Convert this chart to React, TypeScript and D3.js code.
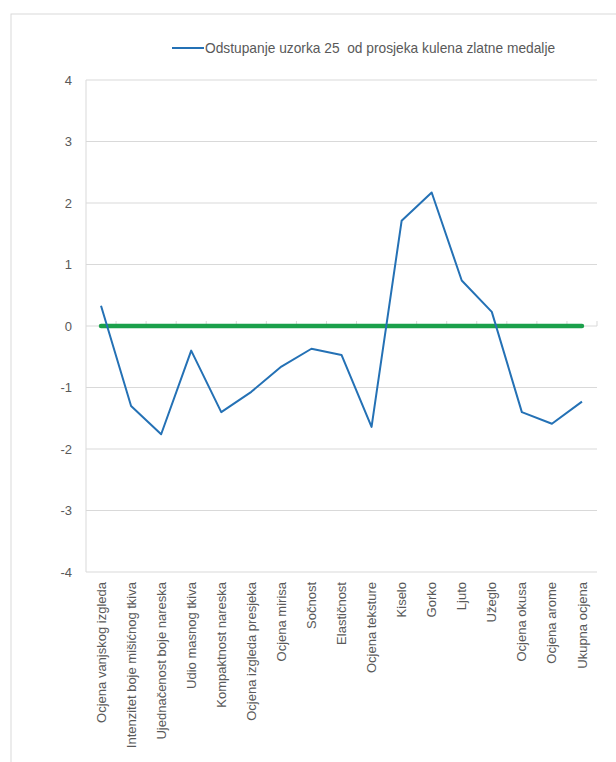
import React from "react";
import * as d3 from "d3";

const categories = [
  "Ocjena vanjskog izgleda",
  "Intenzitet boje mišićnog tkiva",
  "Ujednačenost boje nareska",
  "Udio masnog tkiva",
  "Kompaktnost nareska",
  "Ocjena izgleda presjeka",
  "Ocjena mirisa",
  "Sočnost",
  "Elastičnost",
  "Ocjena teksture",
  "Kiselo",
  "Gorko",
  "Ljuto",
  "Užeglo",
  "Ocjena okusa",
  "Ocjena arome",
  "Ukupna ocjena",
];

const deviation = [0.33, -1.3, -1.76, -0.4, -1.4, -1.07, -0.66, -0.37, -0.47, -1.64, 1.71, 2.17, 0.74, 0.23, -1.4, -1.59, -1.23];
const baseline = categories.map(() => 0);
const yTicks = [-4, -3, -2, -1, 0, 1, 2, 3, 4];
const legendLabel = "Odstupanje uzorka 25  od prosjeka kulena zlatne medalje";

const W = 616;
const H = 762;
const left = 86;
const right = 597;
const top = 80;
const bottom = 572;
const FONT = "'Liberation Sans', Arial, sans-serif";
const TEXT = "#595959";
const GRID = "#d9d9d9";

export default function App() {
  const x = d3.scaleBand<string>().domain(categories).range([left, right]).paddingInner(0).paddingOuter(0);
  const y = d3.scaleLinear().domain([-4, 4]).range([bottom, top]);
  const cx = (c: string) => (x(c) as number) + x.bandwidth() / 2;

  const line = d3
    .line<number>()
    .x((_, i) => cx(categories[i]))
    .y((d) => y(d));

  return (
    <svg width={W} height={H} style={{ position: "absolute", left: 0, top: 0, background: "#fff" }}>
      <rect x={11} y={14} width={W} height={H} fill="#fff" stroke={GRID} strokeWidth={1} />
      {/* gridlines */}
      {yTicks.map((t) => (
        <line key={"g" + t} x1={left} x2={right} y1={y(t)} y2={y(t)} stroke={GRID} strokeWidth={1} />
      ))}
      <line x1={left} x2={left} y1={top} y2={bottom} stroke={GRID} strokeWidth={1} />
      {/* category tick marks on zero axis */}
      {d3.range(1, categories.length + 1).map((i) => {
        const xx = left + i * x.bandwidth();
        return <line key={"t" + i} x1={xx} x2={xx} y1={y(0) - 5} y2={y(0)} stroke={GRID} strokeWidth={1} />;
      })}
      {/* y tick labels */}
      {yTicks.map((t) => (
        <text key={"l" + t} x={72} y={y(t)} dy="0.35em" textAnchor="end" fontFamily={FONT} fontSize={13} fill={TEXT}>
          {t}
        </text>
      ))}
      {/* category labels */}
      {categories.map((c) => (
        <text
          key={c}
          transform={`translate(${cx(c)},582) rotate(-90)`}
          dy="0.35em"
          textAnchor="end"
          fontFamily={FONT}
          fontSize={13}
          fill={TEXT}
        >
          {c}
        </text>
      ))}
      {/* baseline (green) */}
      <path d={line(baseline) || ""} fill="none" stroke="#1ba04b" strokeWidth={4.5} strokeLinecap="round" />
      {/* series */}
      <path d={line(deviation) || ""} fill="none" stroke="#2471b5" strokeWidth={2} strokeLinejoin="round" />
      {/* legend */}
      <line x1={172} x2={204} y1={48} y2={48} stroke="#2471b5" strokeWidth={2} />
      <text x={205} y={48} dy="0.35em" fontFamily={FONT} fontSize={13.75} fill={TEXT} style={{ whiteSpace: "pre" }}>
        {legendLabel}
      </text>
    </svg>
  );
}
